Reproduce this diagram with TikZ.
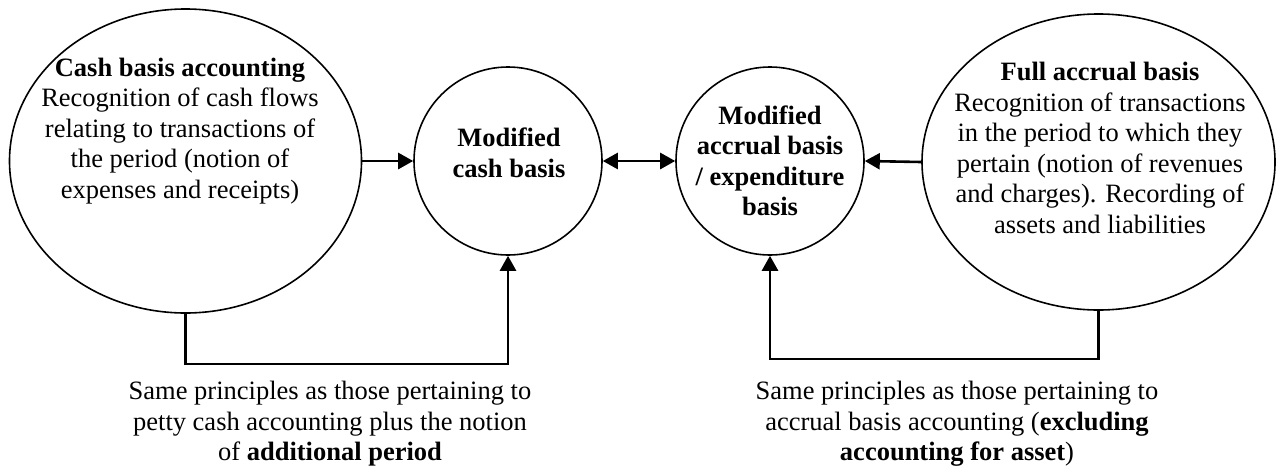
\documentclass[tikz,border=0pt]{standalone}
\usepackage{fontspec}
\setmainfont{Liberation Serif}
\usetikzlibrary{shapes.geometric,arrows.meta}
\begin{document}
\begin{tikzpicture}[x=1pt,y=-1pt,
  shapeline/.style={draw,line width=1.6pt},
  oval/.style={shapeline,ellipse,inner sep=0pt},
  circ/.style={shapeline,circle,inner sep=0pt,minimum size=188pt},
  txt/.style={align=center,font=\fontsize{26.5}{30.5}\selectfont,inner sep=0pt},
  conn/.style={line width=2.6pt,-{Triangle[length=15pt,width=16pt]}},
  dconn/.style={line width=2.6pt,{Triangle[length=15pt,width=16pt]}-{Triangle[length=15pt,width=16pt]}},
]
\useasboundingbox (0,0) rectangle (1276,469);

% shapes
\node[oval,minimum width=352pt,minimum height=304pt] (L) at (185.5,161) {};
\node[circ] (C1) at (508,161) {};
\node[circ] (C2) at (770,161) {};
\node[oval,minimum width=353pt,minimum height=296pt] (R) at (1098.5,162) {};

% texts
\node[txt] (Lt) at (180,131) {\textbf{Cash basis accounting}\\Recognition of cash flows\\relating to transactions of\\the period (notion of\\expenses and receipts)};
\node[txt] (C1t) at (509,153) {\textbf{Modified}\\\textbf{cash basis}};
\node[txt] (C2t) at (770,161) {\textbf{Modified}\\\textbf{accrual basis}\\\textbf{/ expenditure}\\\textbf{basis}};
\node[txt] (Rt) at (1100,148) {\textbf{Full accrual basis}\\Recognition of transactions\\in the period to which they\\pertain (notion of revenues\\and charges). Recording of\\assets and liabilities};

\node[txt] (Bl) at (330,424) {Same principles as those pertaining to\\petty cash accounting plus the notion\\of \textbf{additional period}};
\node[txt] (Br) at (957,424) {Same principles as those pertaining to\\accrual basis accounting (\textbf{excluding}\\\textbf{accounting for asset})};

% connectors
\draw[conn] (L.east) -- (C1.west);
\draw[dconn] (C1.east) -- (C2.west);
\draw[conn] (R.west) -- (C2.east);
\draw[conn] (L.south) -- ++(0,50) -| (C1.south);
\draw[conn] (R.south) -- ++(0,48) -| (C2.south);
\end{tikzpicture}
\end{document}
